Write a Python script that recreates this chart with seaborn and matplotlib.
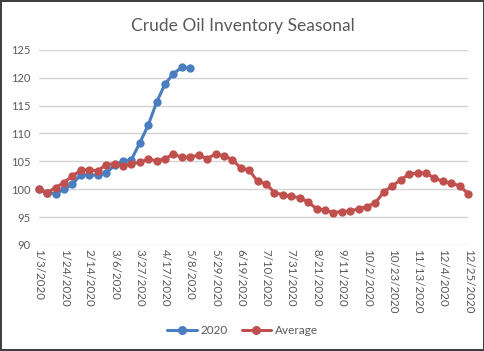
import numpy as np; import pandas as pd
import matplotlib
matplotlib.use("Agg")
import matplotlib.pyplot as plt
import seaborn as sns

# haftalik veriler (1/3/2020 - 12/25/2020)
tarih_etiketleri = ["1/3/2020", "1/24/2020", "2/14/2020", "3/6/2020", "3/27/2020", "4/17/2020",
                    "5/8/2020", "5/29/2020", "6/19/2020", "7/10/2020", "7/31/2020", "8/21/2020",
                    "9/11/2020", "10/2/2020", "10/23/2020", "11/13/2020", "12/4/2020", "12/25/2020"]

seri_2020 = [100.0, 99.4, 99.2, 100.0, 100.9, 102.6, 102.6, 102.5, 102.9, 104.3,
             105.0, 105.3, 108.3, 111.5, 115.6, 118.9, 120.7, 121.9, 121.7]

ortalama = [100.0, 99.4, 100.3, 101.2, 102.4, 103.4, 103.5, 103.3, 104.4, 104.6,
            104.2, 104.6, 104.8, 105.4, 105.1, 105.5, 106.3, 105.7, 105.8, 106.1,
            105.5, 106.3, 106.0, 105.3, 103.8, 103.4, 101.4, 101.0, 99.4, 99.0,
            98.7, 98.5, 97.7, 96.5, 96.3, 95.8, 96.0, 96.1, 96.5, 96.9,
            97.6, 99.5, 100.6, 101.7, 102.7, 102.9, 102.9, 102.0, 101.4, 101.1,
            100.6, 99.2]

df = pd.concat([
    pd.DataFrame({"hafta": range(len(seri_2020)), "deger": seri_2020, "seri": "2020"}),
    pd.DataFrame({"hafta": range(len(ortalama)), "deger": ortalama, "seri": "Average"}),
])

renkler = {"2020": "#4a7ebf", "Average": "#c0504d"}
yazi_rengi = "#595959"

sns.set_style("white")
plt.rcParams["font.family"] = ["Lato", "DejaVu Sans"]

fig = plt.figure(figsize=(4.85, 3.51), dpi=100, linewidth=1.5, edgecolor="#404040")
ax = fig.add_axes([0.080, 0.302, 0.885, 0.556])

sns.lineplot(data=df, x="hafta", y="deger", hue="seri", palette=renkler, marker="o",
             markersize=6, markeredgewidth=0, linewidth=2.2, ax=ax, legend=False)
for cizgi in ax.lines:
    cizgi.set_clip_on(False)  # kenardaki noktalar kesilmesin

ax.set_xlim(0, len(ortalama) - 1)
ax.set_ylim(90, 125)
ax.set_yticks(range(90, 126, 5))
ax.set_xticks(range(0, len(ortalama), 3))
ax.set_xticklabels(tarih_etiketleri, rotation=270, fontsize=8.3, color=yazi_rengi)
ax.tick_params(axis="y", labelsize=8, labelcolor=yazi_rengi, length=0, pad=6)
ax.tick_params(axis="x", length=0, pad=3)
ax.grid(axis="y", color="#d4d4d4", linewidth=1)
ax.set_axisbelow(True)
for s in ax.spines.values():
    s.set_visible(False)
ax.set_xlabel("")
ax.set_ylabel("")

fig.suptitle("Crude Oil Inventory Seasonal", y=0.95, fontsize=12.5, color=yazi_rengi)

from matplotlib.lines import Line2D
tutamaclar = [Line2D([], [], color=renkler[k], marker="o", markersize=5.5, linewidth=2.2) for k in renkler]
fig.legend(tutamaclar, list(renkler), loc="center", bbox_to_anchor=(0.5, 0.058), ncol=2,
           frameon=False, fontsize=8.5, labelcolor=yazi_rengi, handlelength=2.5, columnspacing=1.2,
           handletextpad=0.3)

plt.savefig("out.png", dpi=100, edgecolor=fig.get_edgecolor())
